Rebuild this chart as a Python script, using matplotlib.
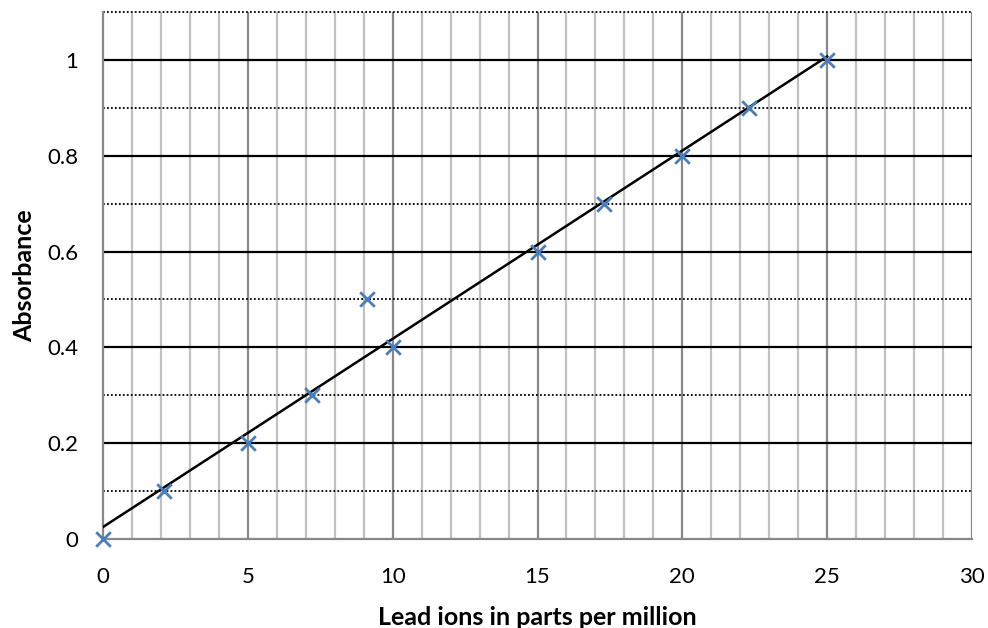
import numpy as np
import matplotlib
matplotlib.use("Agg")
import matplotlib.pyplot as plt

lead_ppm = [0, 2.1, 5, 7.2, 9.1, 10, 15, 17.3, 20, 22.3, 25]
absorbance = [0, 0.1, 0.2, 0.3, 0.5, 0.4, 0.6, 0.7, 0.8, 0.9, 1.0]
x_ticks = [0, 5, 10, 15, 20, 25, 30]
y_ticks = [0, 0.2, 0.4, 0.6, 0.8, 1.0]
y_tick_labels = ["0", "0.2", "0.4", "0.6", "0.8", "1"]

plt.rcParams['font.family'] = ['Lato', 'DejaVu Sans']

fig = plt.figure(figsize=(9.88, 6.28), dpi=100)
ax = fig.add_axes([103/988, 1 - 539/628, (972-103)/988, (539-12)/628])

ax.set_xlim(0, 30)
ax.set_ylim(0, 1.1)

# grid lines
for xv in np.arange(1, 30, 1):
    if xv % 5 == 0:
        continue
    ax.axvline(xv, color='#c0c0c0', lw=1.6, zorder=1)
for xv in x_ticks[1:]:
    ax.axvline(xv, color='#888888', lw=1.6, zorder=1.5)
for yv in y_ticks[1:]:
    ax.axhline(yv, color='black', lw=1.6, zorder=2)
for yv in [0.1, 0.3, 0.5, 0.7, 0.9, 1.1]:
    ax.axhline(yv, color='black', lw=1.3, ls=(0, (1, 1.2)), zorder=2, clip_on=False)

# trendline
coef = np.polyfit(lead_ppm, absorbance, 1)
xs = np.array([min(lead_ppm), max(lead_ppm)])
ax.plot(xs, np.polyval(coef, xs), color='black', lw=1.8, zorder=3)

ax.scatter(lead_ppm, absorbance, marker='x', s=110, color='#4a7ebb', linewidths=2, zorder=4, clip_on=False)

ax.set_xticks(x_ticks)
ax.set_xticklabels([str(v) for v in x_ticks])
ax.set_yticks(y_ticks)
ax.set_yticklabels(y_tick_labels)
ax.tick_params(axis='y', length=0, labelsize=16, colors='black', pad=18)
ax.tick_params(axis='x', length=0, labelsize=16, colors='black', pad=20.5)

for s in ['top', 'right']:
    ax.spines[s].set_visible(False)
for s in ['left', 'bottom']:
    ax.spines[s].set_color('#888888')
    ax.spines[s].set_linewidth(1.6)

ax.set_xlabel('Lead ions in parts per million', fontsize=18, fontweight='bold', labelpad=13)
ax.set_ylabel('Absorbance', fontsize=18, fontweight='bold', labelpad=8)

fig.savefig('out.png', dpi=100)
